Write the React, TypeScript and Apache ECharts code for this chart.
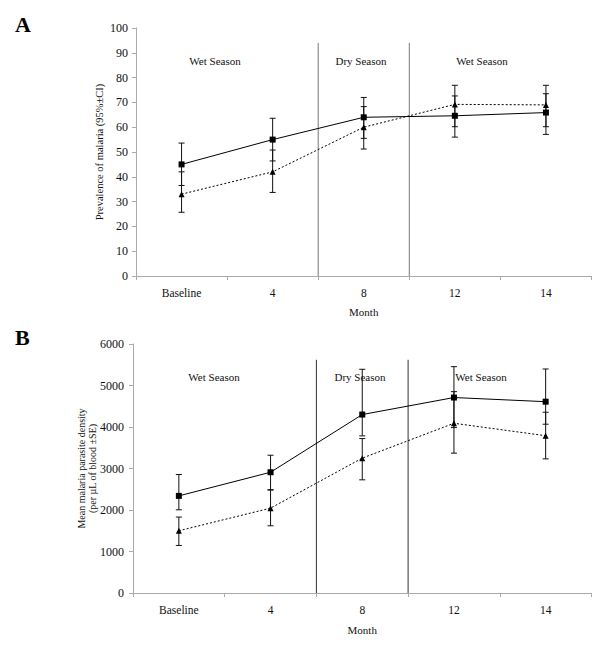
import React, { useEffect, useRef } from "react";
import * as echarts from "echarts";

const categories = ["Baseline", "4", "8", "12", "14"];

// Panel A: prevalence of malaria (%), 95% CI
const prevSquare = [45, 55, 64, 64.6, 65.9];
const prevSquareLow = [36.5, 46.4, 55.5, 56, 57.1];
const prevSquareHigh = [53.6, 63.6, 72, 72.6, 73.5];
const prevTri = [33, 42, 60, 69.2, 69];
const prevTriLow = [25.7, 33.7, 51.2, 60.2, 60.2];
const prevTriHigh = [42, 50.8, 68.3, 76.9, 76.9];

// Panel B: mean parasite density (per µL), ±SE
const densSquare = [2340, 2910, 4300, 4710, 4610];
const densSquareLow = [2005, 2490, 3786, 3986, 4067];
const densSquareHigh = [2855, 3320, 5391, 5454, 5398];
const densTri = [1500, 2045, 3250, 4090, 3790];
const densTriLow = [1146, 1620, 2727, 3370, 3232];
const densTriHigh = [1830, 2480, 3721, 4852, 4356];

// season boundaries, in category-band units (between month 4 and 8, 8 and 12)
const seasonBoundaries = [2, 3];
const seasonLabels = ["Wet Season", "Dry Season", "Wet Season"];

const FONT = "Liberation Serif";

function errData(low: number[], high: number[]) {
  return low.map((l, i) => [i, l, high[i]]);
}

function errorSeries(xAxisIndex: number, yAxisIndex: number, low: number[], high: number[]) {
  return {
    type: "custom",
    xAxisIndex,
    yAxisIndex,
    z: 3,
    data: errData(low, high),
    renderItem: (params: any, api: any) => {
      const i = api.value(0);
      const lo = api.coord([i, api.value(1)]);
      const hi = api.coord([i, api.value(2)]);
      const w = 3;
      const style = { stroke: "#111", lineWidth: 1 };
      return {
        type: "group",
        children: [
          { type: "line", shape: { x1: lo[0], y1: lo[1], x2: hi[0], y2: hi[1] }, style },
          { type: "line", shape: { x1: lo[0] - w, y1: lo[1], x2: lo[0] + w, y2: lo[1] }, style },
          { type: "line", shape: { x1: hi[0] - w, y1: hi[1], x2: hi[0] + w, y2: hi[1] }, style },
        ],
      };
    },
  };
}

function dividerSeries(xAxisIndex: number, yAxisIndex: number, top: number, color: string) {
  return {
    type: "custom",
    xAxisIndex,
    yAxisIndex,
    z: 1,
    data: seasonBoundaries.map((b) => [b, 0, top]),
    renderItem: (params: any, api: any) => {
      const a = api.coord([api.value(0), api.value(1)]);
      const b = api.coord([api.value(0), api.value(2)]);
      return {
        type: "line",
        shape: { x1: a[0], y1: a[1], x2: b[0], y2: b[1] },
        style: { stroke: color, lineWidth: 1 },
      };
    },
  };
}

function lineSeries(xAxisIndex: number, yAxisIndex: number, data: number[], symbol: string, dashed: boolean) {
  return {
    type: "line",
    xAxisIndex,
    yAxisIndex,
    z: 4,
    data,
    symbol,
    symbolSize: 6,
    itemStyle: { color: "#000" },
    lineStyle: { color: "#000", width: 1, type: dashed ? [2, 2] : "solid" },
  };
}

const catAxisBase = (gridIndex: number, gap: number) => ({
  type: "category",
  gridIndex,
  data: categories,
  boundaryGap: true,
  name: "Month",
  nameLocation: "middle",
  nameGap: gap,
  nameMoveOverlap: false,
  nameTextStyle: { fontFamily: FONT, fontSize: 11, color: "#111" },
  axisLine: { lineStyle: { color: "#aaa", width: 1 } },
  axisTick: { show: true, length: 4, lineStyle: { color: "#aaa" } },
  axisLabel: { fontFamily: FONT, fontSize: 11.5, color: "#111", margin: 11 },
});

const valAxisHidden = (gridIndex: number) => ({
  type: "value",
  gridIndex,
  min: 0,
  max: 5,
  show: false,
});

export default function App() {
  const ref = useRef<HTMLDivElement>(null);
  useEffect(() => {
    document.body.style.margin = "0";
    const chart = echarts.init(ref.current!, null, { renderer: "svg" });
    const option: any = {
      animation: false,
      backgroundColor: "#fff",
      grid: [
        { left: 136, top: 28, width: 455.5, height: 248 },
        { left: 133, top: 344, width: 458.5, height: 249 },
      ],
      xAxis: [catAxisBase(0, 30), catAxisBase(1, 31), valAxisHidden(0), valAxisHidden(1)],
      yAxis: [
        {
          type: "value",
          gridIndex: 0,
          min: 0,
          max: 100,
          interval: 10,
          name: "Prevalence of malaria (95%±CI)",
          nameLocation: "middle",
          nameRotate: 90,
          nameGap: 31,
          nameMoveOverlap: false,
          nameTextStyle: { fontFamily: FONT, fontSize: 10.5, color: "#111" },
          axisLine: { show: true, lineStyle: { color: "#aaa" } },
          axisTick: { show: true, length: 4, lineStyle: { color: "#aaa" } },
          splitLine: { show: false },
          axisLabel: { fontFamily: FONT, fontSize: 12, color: "#111", margin: 8 },
        },
        {
          type: "value",
          gridIndex: 1,
          min: 0,
          max: 6000,
          interval: 1000,
          name: "Mean malaria parasite density\n(per µL of blood ±SE)",
          nameLocation: "middle",
          nameRotate: 90,
          nameGap: 35,
          nameMoveOverlap: false,
          nameTextStyle: { fontFamily: FONT, fontSize: 10, color: "#111", lineHeight: 11 },
          axisLine: { show: true, lineStyle: { color: "#aaa" } },
          axisTick: { show: true, length: 4, lineStyle: { color: "#aaa" } },
          splitLine: { show: false },
          axisLabel: {
            fontFamily: FONT,
            fontSize: 12,
            color: "#111",
            margin: 9,
            formatter: (v: number) => String(v),
          },
        },
      ],
      series: [
        dividerSeries(2, 0, 94, "#777"),
        dividerSeries(3, 1, 5620, "#333"),
        errorSeries(0, 0, prevSquareLow, prevSquareHigh),
        errorSeries(0, 0, prevTriLow, prevTriHigh),
        lineSeries(0, 0, prevSquare, "rect", false),
        lineSeries(0, 0, prevTri, "triangle", true),
        errorSeries(1, 1, densSquareLow, densSquareHigh),
        errorSeries(1, 1, densTriLow, densTriHigh),
        lineSeries(1, 1, densSquare, "rect", false),
        lineSeries(1, 1, densTri, "triangle", true),
      ],
      graphic: [
        { type: "text", left: 15, top: 13, style: { text: "A", font: `bold 22px ${FONT}`, fill: "#000" } },
        { type: "text", left: 15, top: 326, style: { text: "B", font: `bold 22px ${FONT}`, fill: "#000" } },
        { type: "text", x: 215, y: 61, style: { text: seasonLabels[0], font: `11px ${FONT}`, fill: "#111", align: "center", verticalAlign: "middle" } },
        { type: "text", x: 361, y: 61, style: { text: seasonLabels[1], font: `11px ${FONT}`, fill: "#111", align: "center", verticalAlign: "middle" } },
        { type: "text", x: 482, y: 61, style: { text: seasonLabels[2], font: `11px ${FONT}`, fill: "#111", align: "center", verticalAlign: "middle" } },
        { type: "text", x: 214, y: 377, style: { text: seasonLabels[0], font: `11px ${FONT}`, fill: "#111", align: "center", verticalAlign: "middle" } },
        { type: "text", x: 360, y: 377, style: { text: seasonLabels[1], font: `11px ${FONT}`, fill: "#111", align: "center", verticalAlign: "middle" } },
        { type: "text", x: 481, y: 377, style: { text: seasonLabels[2], font: `11px ${FONT}`, fill: "#111", align: "center", verticalAlign: "middle" } },
      ],
    };
    chart.setOption(option);
    return () => chart.dispose();
  }, []);
  return <div ref={ref} style={{ width: 600, height: 645 }} />;
}
